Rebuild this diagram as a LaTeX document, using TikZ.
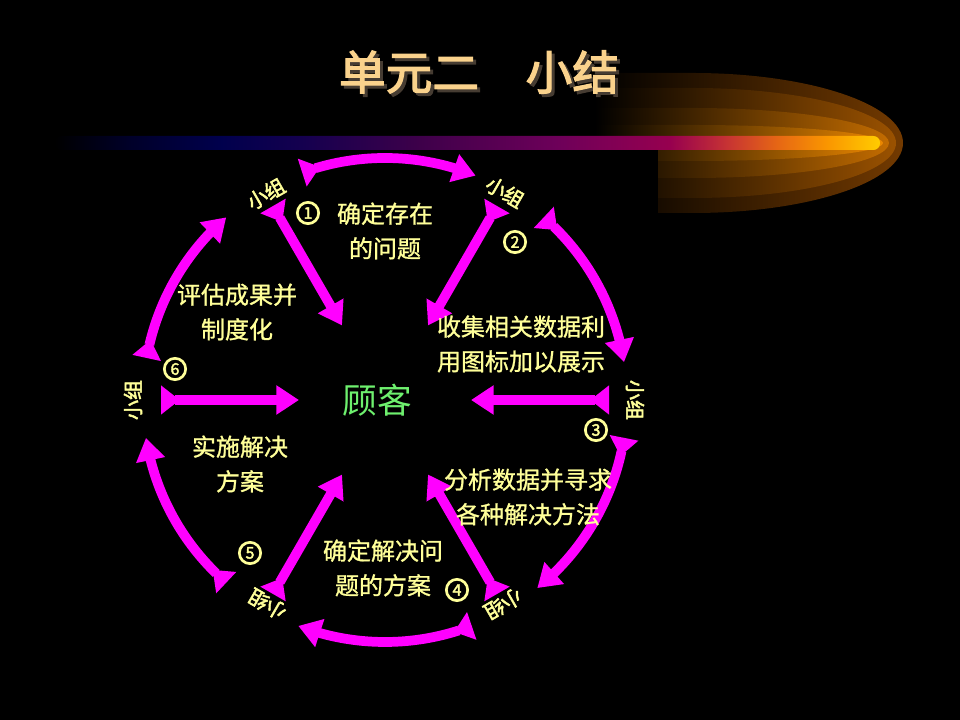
\documentclass[tikz,border=0pt]{standalone}
\usepackage{fontspec}
\usetikzlibrary{arrows.meta,bending,calc}
\newfontfamily\cjk{Noto Sans CJK SC}
\newfontfamily\cjkmid{Noto Sans CJK SC}[FakeBold=1]
\newfontfamily\cjkheavy{Noto Sans CJK SC}[FakeBold=2.5]

\definecolor{arrowpink}{RGB}{255,0,255}
\definecolor{txtyellow}{RGB}{255,255,153}
\definecolor{hubgreen}{RGB}{110,240,110}
\definecolor{titlegold}{RGB}{250,210,140}
\definecolor{titleshadow}{RGB}{70,60,50}
\definecolor{cometA}{RGB}{115,58,0}
\definecolor{cometB}{RGB}{155,82,0}
\definecolor{cometC}{RGB}{195,108,0}
\definecolor{cometD}{RGB}{235,135,0}

\pgfdeclarehorizontalshading{barfade}{100bp}{rgb(0bp)=(0,0,0); rgb(25bp)=(0,0,0);
  rgb(29.5bp)=(0,0,0.16); rgb(35bp)=(0,0,0.3); rgb(40bp)=(0.08,0,0.31);
  rgb(47bp)=(0.24,0,0.29); rgb(55.5bp)=(0.43,0,0.35); rgb(62.25bp)=(0.59,0,0.31);
  rgb(65.75bp)=(0.78,0.2,0.2); rgb(68.75bp)=(0.9,0.4,0.08); rgb(71.8bp)=(0.98,0.59,0);
  rgb(75bp)=(1,0.8,0); rgb(100bp)=(1,0.8,0)}

\tikzset{
  ringarrow/.style={draw=arrowpink, line width=7.3pt,
    {Triangle[reversed,length=14pt,width=21pt]}-{Triangle[length=17pt,width=21pt]}},
  spoke/.style={ringarrow},
  grouplbl/.style={text=txtyellow, inner sep=0pt, font=\cjkheavy\fontsize{15}{15}\selectfont},
  numdot/.style={circle, draw=txtyellow, line width=2pt, inner sep=0pt, minimum size=16pt,
    text=txtyellow, font=\cjkheavy\fontsize{12}{12}\selectfont},
  tasktext/.style={text=txtyellow, align=center, inner sep=0pt, font=\cjkmid\fontsize{18}{26}\selectfont},
}

\begin{document}
\begin{tikzpicture}[x=0.75pt,y=0.75pt]
  \useasboundingbox (0,0) rectangle (960,720);
  \fill[black] (0,0) rectangle (960,720);

  % comet behind the title bar
  \foreach \h/\rx/\col in {70/210/cometA, 55/203/cometB, 35/196/cometC, 18/190/cometD} {
   \shade[left color=black, middle color=\col, right color=\col]
     (595,577+\h) -- (693,577+\h) arc[start angle=90, end angle=-90, x radius=\rx, y radius=\h]
     -- (595,577-\h) -- cycle;
  }
  \fill[black] (585,577) rectangle (658,500);
  \shade[shading=barfade, rounded corners=5pt] (55,570) rectangle (880,584);

  \node[text=titleshadow, font=\cjkheavy\fontsize{35}{35}\selectfont] at (482,645) {单元二　小结};
  \node[text=titlegold, font=\cjkheavy\fontsize{35}{35}\selectfont] (title) at (479,648) {单元二　小结};

  \coordinate (hub) at (385,320);
  \node[text=hubgreen, inner sep=0pt, font=\cjk\fontsize{26}{26}\selectfont] (client) at (377,320) {顾客};

  \foreach \s/\e [count=\k] in {110/68, 49/9, -9/-51, -69/-111, -131/-171, 170/131} {
   \coordinate (arc\k) at ($(hub)+(\s:242)$);
   \draw[ringarrow] (arc\k) arc[start angle=\s, end angle=\e, radius=242];
  }

  \foreach \a [count=\k] in {120,60,0,-60,-120,180} {
   \coordinate (out\k) at ($(hub)+(\a:224)$);
   \coordinate (in\k) at ($(hub)+(\a:86)$);
   \draw[spoke] (out\k) -- (in\k);
  }

  \foreach \a/\r [count=\k] in {120/238, 60/240, 0/250, -60/236, -120/236, 180/252} {
   \node[grouplbl, rotate=\a-90] (grp\k) at ($(hub)+(\a:\r)$) {小组};
  }

  \foreach \n/\x/\y in {1/308/507, 2/515/478, 3/596/290, 4/457/130, 5/250/167, 6/175/351} {
   \node[numdot] (num\n) at (\x,\y) {\n};
  }

  \node[tasktext] (task1) at (385,489) {确定存在\\的问题};
  \node[tasktext] (task2) at (521,376) {收集相关数据利\\用图标加以展示};
  \node[tasktext] (task3) at (528,223) {分析数据并寻求\\各种解决方法};
  \node[tasktext] (task4) at (383,152) {确定解决问\\题的方案};
  \node[tasktext] (task5) at (240,256) {实施解决\\方案};
  \node[tasktext] (task6) at (237,408) {评估成果并\\制度化};
 \end{tikzpicture}
\end{document}
